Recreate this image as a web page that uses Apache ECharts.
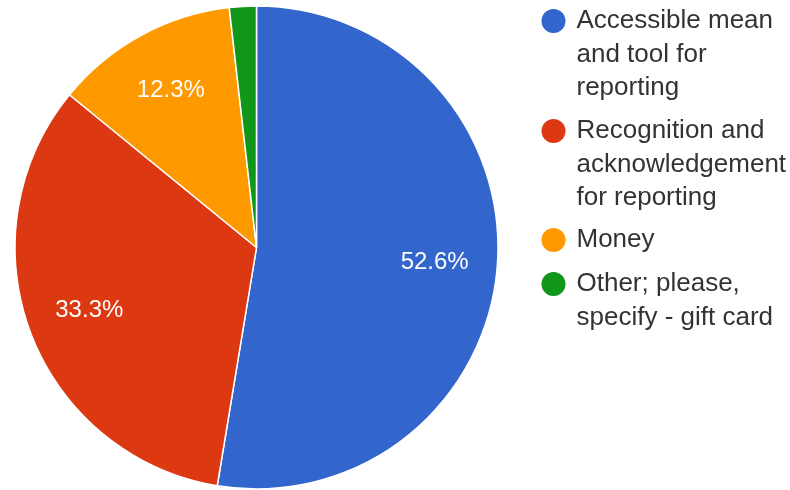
<!DOCTYPE html>
<html>
<head>
<meta charset="utf-8">
<script src="https://cdn.jsdelivr.net/npm/echarts@6/dist/echarts.min.js"></script>
<style>
html,body{margin:0;padding:0;background:#fff;}
#chart{width:790px;height:490px;}
</style>
</head>
<body>
<div id="chart"></div>
<script>
// Data
const categories = [
  'Accessible mean and tool for reporting',
  'Recognition and acknowledgement for reporting',
  'Money',
  'Other; please, specify - gift card'
];
const legendLines = [
  ['Accessible mean', 'and tool for', 'reporting'],
  ['Recognition and', 'acknowledgement', 'for reporting'],
  ['Money'],
  ['Other; please,', 'specify - gift card']
];
const percents = [52.6, 33.3, 12.3, 1.8];
const colors = ['#3366cc', '#dc3912', '#ff9900', '#109618'];

const FONT = '"Liberation Sans", Arial, sans-serif';
const LH = 33.5;
const D = 24; // legend dot diameter
const legendCenters = [21, 131, 240, 284];

const chart = echarts.init(document.getElementById('chart'), null, {renderer: 'canvas'});

const pieData = categories.map((name, i) => ({
  name: name,
  value: percents[i],
  itemStyle: {color: colors[i]}
}));

const labelData = categories.map((name, i) => ({
  name: name,
  value: percents[i],
  label: {show: percents[i] >= 5}
}));

function dotIcon(h) {
  // dot at top of a tall box so it lines up with the first text line
  const r = D / 2;
  return 'path://M' + r + ',0 A' + r + ',' + r + ' 0 1,1 ' + r + ',' + D +
    ' A' + r + ',' + r + ' 0 1,1 ' + r + ',0 Z M0,' + h + ' L' + D + ',' + h;
}

const legends = categories.map((name, i) => {
  const n = legendLines[i].length;
  const h = D + (n - 1) * LH;
  return {
    left: 541.5,
    top: legendCenters[i] - LH / 2,
    orient: 'vertical',
    padding: 0,
    itemWidth: D,
    itemHeight: h,
    itemGap: 0,
    icon: n > 1 ? dotIcon(h) : 'circle',
    symbolKeepAspect: true,
    itemStyle: {color: colors[i], borderWidth: 0},
    data: [{name: name, itemStyle: {color: colors[i], borderWidth: 0}}],
    formatter: () => legendLines[i].join('\n'),
    textStyle: {
      fontFamily: FONT,
      fontSize: 26,
      color: '#333',
      lineHeight: LH,
      padding: [0, 0, 0, 6]
    }
  };
});

chart.setOption({
  animation: false,
  backgroundColor: '#fff',
  legend: legends,
  series: [
    {
      type: 'pie',
      center: [256.5, 247.5],
      radius: [0, 241.5],
      startAngle: 90,
      clockwise: true,
      avoidLabelOverlap: false,
      label: {show: false},
      labelLine: {show: false},
      itemStyle: {borderColor: '#fff', borderWidth: 1.5},
      emphasis: {disabled: true},
      data: pieData
    },
    {
      type: 'pie',
      center: [256.5, 247.5],
      radius: [110, 241.5],
      startAngle: 90,
      clockwise: true,
      silent: true,
      avoidLabelOverlap: false,
      itemStyle: {color: 'rgba(0,0,0,0)', borderWidth: 0},
      labelLine: {show: false},
      emphasis: {disabled: true},
      label: {
        position: 'inside',
        formatter: p => p.value.toFixed(1) + '%',
        color: '#fff',
        fontFamily: FONT,
        fontSize: 24,
        textBorderWidth: 0
      },
      data: labelData
    }
  ]
});
</script>
</body>
</html>
